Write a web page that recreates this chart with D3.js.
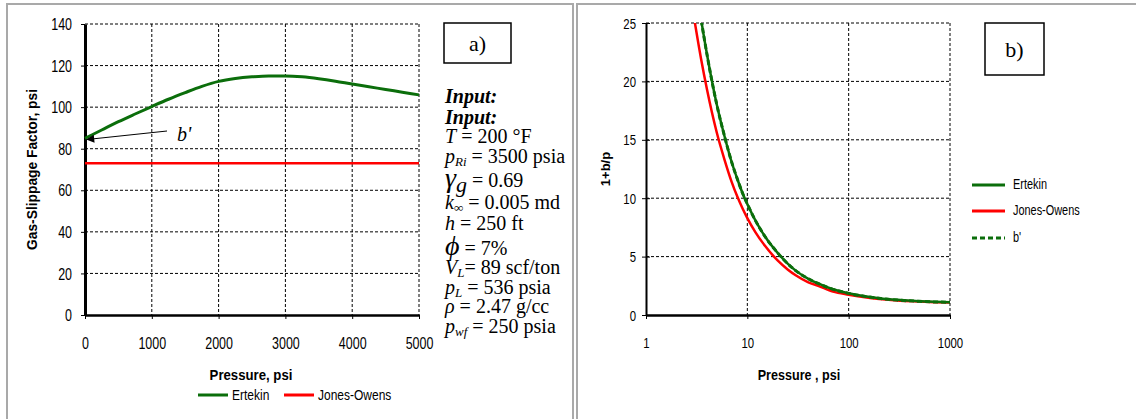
<!DOCTYPE html>
<html>
<head>
<meta charset="utf-8">
<script src="https://cdn.jsdelivr.net/npm/d3@7"></script>
<style>
  body { margin: 0; background: #fff; }
  svg text { font-family: "Liberation Sans", Arial, sans-serif; fill: #000; }
  svg text.serif { font-family: "Liberation Serif", "Times New Roman", serif; }
</style>
</head>
<body>
<svg width="1136" height="419"></svg>
<script>
'use strict'

// panel a) gas-slippage factor vs pressure
const pressA = [0, 250, 500, 750, 1000, 1250, 1500, 1750, 2000, 2250, 2500, 2750, 3000, 3250, 3500, 3750, 4000, 4250, 4500, 4750, 5000]
const ertekinA = [85, 89, 93, 96.7, 100.3, 103.8, 107, 110, 112.4, 113.8, 114.6, 115, 115, 114.6, 113.7, 112.5, 111.1, 109.8, 108.5, 107.2, 105.9]
const jonesPressA = [0, 5000]
const jonesA = [73, 73]
const xTicksA = [0, 1000, 2000, 3000, 4000, 5000]
const yTicksA = [0, 20, 40, 60, 80, 100, 120, 140]

// panel b) 1+b/p vs pressure (log axis)
const pressB = [3, 3.5, 4, 5, 6, 7, 8, 9, 10, 12, 15, 20, 25, 30, 40, 50, 70, 100, 150, 200, 300, 500, 700, 1000]
const ertekinB = [29.3, 25.3, 22.3, 18.0, 15.2, 13.1, 11.6, 10.4, 9.5, 8.1, 6.7, 5.3, 4.4, 3.8, 3.1, 2.7, 2.2, 1.86, 1.58, 1.44, 1.30, 1.18, 1.13, 1.1]
const jonesB = [25.3, 21.9, 19.3, 15.6, 13.2, 11.4, 10.1, 9.1, 8.3, 7.1, 5.9, 4.65, 3.9, 3.4, 2.8, 2.5, 2.0, 1.73, 1.49, 1.37, 1.24, 1.15, 1.10, 1.07]
const bPrimeB = [29.3, 25.3, 22.3, 18.0, 15.2, 13.1, 11.6, 10.4, 9.5, 8.1, 6.7, 5.3, 4.4, 3.8, 3.1, 2.7, 2.2, 1.85, 1.57, 1.43, 1.28, 1.17, 1.12, 1.085]
const xTicksB = [1, 10, 100, 1000]
const yTicksB = [0, 5, 10, 15, 20, 25]

// input block of panel a)
const inputLines = [
  [{ t: 'Input:', bi: true }],
  [{ t: 'Input:', bi: true }],
  [{ t: 'T', i: true }, { t: ' = 200 °F' }],
  [{ t: 'p', i: true }, { t: 'Ri', sub: true }, { t: ' = 3500 psia' }],
  [{ t: 'γ', i: true, big: true }, { t: 'g', sub: true, subBig: true }, { t: '  = 0.69' }],
  [{ t: 'k', i: true }, { t: '∞', sub: true }, { t: ' = 0.005 md' }],
  [{ t: 'h', i: true }, { t: ' = 250 ft' }],
  [{ t: 'ϕ', i: true, big: true }, { t: ' = 7%' }],
  [{ t: 'V', i: true }, { t: 'L', sub: true }, { t: '= 89 scf/ton' }],
  [{ t: 'p', i: true }, { t: 'L', sub: true }, { t: ' = 536 psia' }],
  [{ t: 'ρ', i: true }, { t: ' = 2.47 g/cc' }],
  [{ t: 'p', i: true }, { t: 'wf', sub: true }, { t: ' = 250 psia' }]
]
const inputBaselines = [103, 124, 143, 163, 187, 209, 230, 255, 274, 294, 313, 333]

const green = '#0b6e0b'
const red = '#ff0000'

const svg = d3.select('svg')
svg.append('rect').attr('width', 1136).attr('height', 419).attr('fill', '#fff')

// panel frames
svg.append('path').attr('d', 'M7,430V4H573V430').attr('fill', 'none').attr('stroke', '#a9a9a9').attr('stroke-width', 2)
svg.append('path').attr('d', 'M577,430V4H1140').attr('fill', 'none').attr('stroke', '#a9a9a9').attr('stroke-width', 2)

// narrow text like the original
const label = (g, x, y, txt, size, sx, opts = {}) => g.append('text')
  .attr('transform', `translate(${x},${y}) scale(${sx},1)`)
  .attr('text-anchor', opts.anchor || 'start')
  .attr('dominant-baseline', 'central')
  .style('font-size', `${size}px`)
  .style('font-weight', opts.bold ? 'bold' : 'normal')
  .text(txt)

const condenseTicks = (axisG, size, sx, dx, dy) => {
  axisG.selectAll('.tick text')
    .attr('x', null).attr('y', null).attr('dy', null)
    .attr('dominant-baseline', 'central')
    .attr('transform', `translate(${dx},${dy}) scale(${sx},1)`)
    .style('font-size', `${size}px`)
    .style('font-family', '"Liberation Sans", Arial, sans-serif')
}

const grid = (g, lines) => g.selectAll('line.grid').data(lines).enter()
  .append('line').classed('grid', true)
  .attr('x1', (d) => d[0]).attr('y1', (d) => d[1])
  .attr('x2', (d) => d[2]).attr('y2', (d) => d[3])
  .attr('stroke', '#000').attr('stroke-width', 1).attr('stroke-dasharray', '3,2')

// ---------- panel a) ----------
const gA = svg.append('g')
const xA = d3.scaleLinear().domain([0, 5000]).range([85, 419])
const yA = d3.scaleLinear().domain([0, 140]).range([315, 24])

grid(gA, xTicksA.slice(1).map((v) => [xA(v), yA(140), xA(v), yA(0)])
  .concat(yTicksA.slice(1).map((v) => [xA(0), yA(v), xA(5000), yA(v)])))

const axLA = gA.append('g').attr('transform', `translate(${xA(0)},0)`)
  .call(d3.axisLeft(yA).tickValues(yTicksA).tickSize(4).tickSizeOuter(0))
axLA.select('.domain').attr('stroke-width', 3)
axLA.selectAll('.tick line').attr('stroke-width', 1)
condenseTicks(axLA, 16, 0.78, -13, 0)
axLA.selectAll('.tick text').attr('text-anchor', 'end')

const axBA = gA.append('g').attr('transform', `translate(0,${yA(0)})`)
  .call(d3.axisBottom(xA).tickValues(xTicksA).tickFormat(d3.format('d')).tickSize(4).tickSizeOuter(0))
axBA.select('.domain').attr('stroke-width', 2.5)
condenseTicks(axBA, 16, 0.78, 0, 28)

const lineA = d3.line().x((d) => xA(d[0])).y((d) => yA(d[1])).curve(d3.curveMonotoneX)
gA.append('path').datum(jonesPressA.map((p, i) => [p, jonesA[i]]))
  .attr('d', lineA).attr('fill', 'none').attr('stroke', red).attr('stroke-width', 2.5)
gA.append('path').datum(pressA.map((p, i) => [p, ertekinA[i]]))
  .attr('d', lineA).attr('fill', 'none').attr('stroke', green).attr('stroke-width', 3)

// b' annotation arrow
svg.append('defs').append('marker').attr('id', 'arr')
  .attr('viewBox', '0 0 10 10').attr('refX', 9).attr('refY', 5)
  .attr('markerWidth', 10).attr('markerHeight', 8).attr('orient', 'auto')
  .attr('markerUnits', 'userSpaceOnUse')
  .append('path').attr('d', 'M0,0L10,5L0,10Z').attr('fill', '#000')
gA.append('line').attr('x1', 167).attr('y1', 131).attr('x2', xA(0) + 2).attr('y2', 139.5)
  .attr('stroke', '#000').attr('stroke-width', 1).attr('marker-end', 'url(#arr)')
gA.append('text').classed('serif', true).attr('x', 177).attr('y', 141)
  .style('font-size', '20px').style('font-style', 'italic').text("b'")

label(gA, 251, 375, 'Pressure, psi', 15, 0.88, { anchor: 'middle', bold: true })
gA.append('text').attr('transform', `translate(32,${(yA(0) + yA(140)) / 2}) rotate(-90) scale(0.92,1)`)
  .attr('text-anchor', 'middle').attr('dominant-baseline', 'central')
  .style('font-size', '15px').style('font-weight', 'bold').text('Gas-Slippage Factor, psi')

// legend a)
const legA = [{ name: 'Ertekin', color: green, x: 198 }, { name: 'Jones-Owens', color: red, x: 284 }]
legA.forEach((d) => {
  gA.append('line').attr('x1', d.x).attr('x2', d.x + 30).attr('y1', 395).attr('y2', 395)
    .attr('stroke', d.color).attr('stroke-width', 3)
  label(gA, d.x + 34, 395, d.name, 15, 0.8)
})

// a) box + inputs
gA.append('rect').attr('x', 444).attr('y', 23).attr('width', 67).attr('height', 40)
  .attr('fill', '#fff').attr('stroke', '#000').attr('stroke-width', 1.5)
gA.append('text').classed('serif', true).attr('x', 477.5).attr('y', 51)
  .attr('text-anchor', 'middle').style('font-size', '22px').text('a)')

inputLines.forEach((parts, i) => {
  const t = gA.append('text').classed('serif', true).attr('x', 445).attr('y', inputBaselines[i])
    .style('font-size', '20px')
  let shifted = 0
  parts.forEach((p) => {
    const ts = t.append('tspan').text(p.t)
    if (p.bi) ts.style('font-weight', 'bold').style('font-style', 'italic')
    if (p.i) ts.style('font-style', 'italic')
    if (p.big) ts.style('font-size', '28px')
    if (p.sub) {
      const off = p.subBig ? 5 : 3
      ts.style('font-size', p.subBig ? '22px' : '13px').style('font-style', 'italic').attr('dy', off - shifted)
      shifted = off
    } else if (shifted) {
      ts.attr('dy', -shifted)
      shifted = 0
    }
  })
})

// ---------- panel b) ----------
const gB = svg.append('g')
const xB = d3.scaleLog().domain([1, 1000]).range([646, 950])
const yB = d3.scaleLinear().domain([0, 25]).range([315, 23])

grid(gB, xTicksB.slice(1).map((v) => [xB(v), yB(25), xB(v), yB(0)])
  .concat(yTicksB.slice(1).map((v) => [xB(1), yB(v), xB(1000), yB(v)])))

gB.append('clipPath').attr('id', 'clipB').append('rect')
  .attr('x', xB(1)).attr('y', yB(25)).attr('width', xB(1000) - xB(1) + 4).attr('height', yB(0) - yB(25))

const lineB = d3.line().x((d) => xB(d[0])).y((d) => yB(d[1])).curve(d3.curveMonotoneX)
const curves = gB.append('g').attr('clip-path', 'url(#clipB)')
curves.append('path').datum(pressB.map((p, i) => [p, jonesB[i]]))
  .attr('d', lineB).attr('fill', 'none').attr('stroke', red).attr('stroke-width', 2.5)
curves.append('path').datum(pressB.map((p, i) => [p, ertekinB[i]]))
  .attr('d', lineB).attr('fill', 'none').attr('stroke', green).attr('stroke-width', 2.5)
curves.append('path').datum(pressB.map((p, i) => [p, bPrimeB[i]]))
  .attr('d', lineB).attr('fill', 'none').attr('stroke', green).attr('stroke-width', 3)
  .attr('stroke-dasharray', '5,3')

const axLB = gB.append('g').attr('transform', `translate(${xB(1)},0)`)
  .call(d3.axisLeft(yB).tickValues(yTicksB).tickSize(4).tickSizeOuter(0))
axLB.select('.domain').attr('stroke-width', 2)
axLB.selectAll('.tick line').attr('x1', 4)
condenseTicks(axLB, 15, 0.76, -10, 0)
axLB.selectAll('.tick text').attr('text-anchor', 'end')

const axBB = gB.append('g').attr('transform', `translate(0,${yB(0)})`)
  .call(d3.axisBottom(xB).tickValues(xTicksB).tickFormat(d3.format('d')).tickSize(4).tickSizeOuter(0))
axBB.select('.domain').attr('stroke-width', 2.5)
condenseTicks(axBB, 15, 0.76, 0, 28)

label(gB, 799, 375, 'Pressure , psi', 15, 0.84, { anchor: 'middle', bold: true })
gB.append('text').attr('transform', `translate(605,${(yB(0) + yB(25)) / 2}) rotate(-90)`)
  .attr('text-anchor', 'middle').attr('dominant-baseline', 'central')
  .style('font-size', '13px').style('font-weight', 'bold').text('1+b/p')

// legend b)
const legB = [
  { name: 'Ertekin', color: green, y: 185, dash: null },
  { name: 'Jones-Owens', color: red, y: 211, dash: null },
  { name: "b'", color: green, y: 238, dash: '5,3' }
]
legB.forEach((d) => {
  gB.append('line').attr('x1', 972).attr('x2', 1005).attr('y1', d.y).attr('y2', d.y)
    .attr('stroke', d.color).attr('stroke-width', 3).attr('stroke-dasharray', d.dash)
  label(gB, 1013, d.y, d.name, 14, 0.78)
})

// b) box
gB.append('rect').attr('x', 985).attr('y', 23).attr('width', 59).attr('height', 52)
  .attr('fill', '#fff').attr('stroke', '#000').attr('stroke-width', 1.5)
gB.append('text').classed('serif', true).attr('x', 1014.5).attr('y', 57)
  .attr('text-anchor', 'middle').style('font-size', '22px').text('b)')
</script>
</body>
</html>
